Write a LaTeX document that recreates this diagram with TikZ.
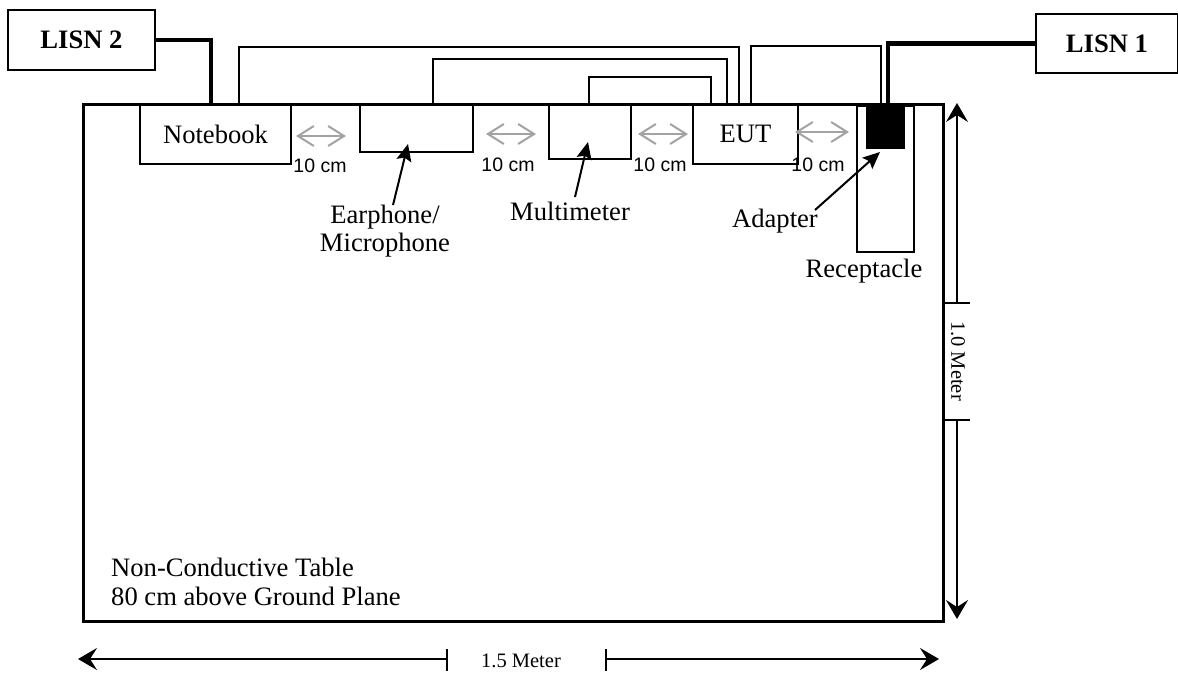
\documentclass[tikz,border=0pt]{standalone}
\usepackage{fontspec}
\setmainfont{Liberation Serif}
\newfontfamily\arialf{Liberation Sans}
\usetikzlibrary{arrows.meta}
\begin{document}
\begin{tikzpicture}[x=1pt,y=-1pt,
  big/.style={font=\fontsize{26.6}{28}\selectfont},
  small/.style={font=\fontsize{20.5}{22}\selectfont, inner sep=0},
  cmlbl/.style={font=\arialf\fontsize{19.5}{21}\selectfont, inner sep=0, anchor=base},
  box/.style={draw, line width=2pt, inner sep=0, anchor=north west, big},
  cable/.style={line width=2pt},
  thickcable/.style={line width=4.5pt},
  gap/.style={draw=gray!72, line width=2pt, {Straight Barb[length=16pt,width=20pt]}-{Straight Barb[length=16pt,width=20pt]}},
  pointer/.style={line width=2pt, -{Stealth[length=17pt,width=15pt,inset=3pt]}},
  dim/.style={line width=1.5pt, -{Stealth[length=19pt,width=22pt,inset=7pt]}},
  tickmark/.style={line width=1.5pt},
]
\useasboundingbox (0,0) rectangle (1178,673);

% table
\node[draw, line width=3pt, anchor=north west, inner sep=0, minimum width=860pt, minimum height=517pt] (table) at (82,103) {};

% LISNs
\node[box, font=\bfseries\fontsize{26.6}{28}\selectfont, minimum width=147pt, minimum height=60pt] (lisn2) at (7,9) {LISN 2};
\node[box, font=\bfseries\fontsize{26.6}{28}\selectfont, minimum width=142pt, minimum height=59pt] (lisn1) at (1035,13) {LISN 1};

% 10 cm labels (under the boxes)
\node[cmlbl] (d1) at (320,172) {10 cm};
\node[cmlbl] (d2) at (508,171) {10 cm};
\node[cmlbl] (d3) at (660,171) {10 cm};
\node[cmlbl] (d4) at (818,171) {10 cm};

% equipment
\node[box, minimum width=151pt, minimum height=60pt] (nb) at (139,103) {Notebook};
\node[box, minimum width=113pt, minimum height=48pt] (ear) at (359,103) {};
\node[box, minimum width=82pt, minimum height=55pt] (mm) at (548,103) {};
\node[box, minimum width=105pt, minimum height=60pt] (eut) at (692,103) {EUT};
\node[box, minimum width=57pt, minimum height=146pt] (rec) at (856,105) {};
\node[box, fill=black, minimum width=37pt, minimum height=44pt] (adp) at (866,103) {};

% cables
\draw[thickcable] (lisn2.east) -| ([xshift=72pt]nb.north west);
\draw[thickcable] (lisn1.west) -| ([xshift=22pt]adp.north west);
\draw[cable] ([xshift=100pt]nb.north west) -- ++(0,-56) -| ([xshift=47pt]eut.north west);
\draw[cable] ([xshift=74pt]ear.north west) -- ++(0,-44) -| ([xshift=35pt]eut.north west);
\draw[cable] ([xshift=41pt]mm.north west) -- ++(0,-26) -| ([xshift=19pt]eut.north west);
\draw[cable] ([xshift=59pt]eut.north west) -- ++(0,-57) -| ([xshift=15pt]adp.north west);

% gap arrows
\draw[gap] (296,136) -- (346,136);
\draw[gap] (486,134) -- (536,134);
\draw[gap] (638,134) -- (688,134);
\draw[gap] (795,132) -- (849,132);

% labels and pointers
\node[big, anchor=north, align=center, inner sep=0] (earlbl) at (385,205) {Earphone/\\Microphone};
\node[big, anchor=base, inner sep=0] (mmlbl) at (570,220) {Multimeter};
\node[big, anchor=base, inner sep=0] (adplbl) at (775,227) {Adapter};
\node[big, anchor=base, inner sep=0] (reclbl) at (864,277) {Receptacle};
\coordinate (eartip) at (408,144);
\coordinate (mmtip) at (588,142);
\coordinate (adptip) at (880,152);
\draw[pointer] ([xshift=8pt]earlbl.north) -- (eartip);
\draw[pointer] (575,197) -- (mmtip);
\draw[pointer] (815,210) -- (adptip);

% table text
\node[big, anchor=base west, inner sep=0] (t1) at (111,576) {Non-Conductive Table};
\node[big, anchor=base west, inner sep=0] (t2) at (111,605) {80 cm above Ground Plane};

% dimensions
\draw[dim] (957,303) -- (957,103);
\draw[tickmark] (945,303) -- (970,303);
\draw[dim] (957,420) -- (957,619);
\draw[tickmark] (945,420) -- (970,420);
\node[small, rotate=-90] (vlbl) at (958,361) {1.0 Meter};
\draw[dim] (447,659) -- (78,659);
\draw[tickmark] (447,649) -- (447,671);
\draw[dim] (606,659) -- (939,659);
\draw[tickmark] (606,649) -- (606,671);
\node[small] (hlbl) at (521,661) {1.5 Meter};
\end{tikzpicture}
\end{document}
